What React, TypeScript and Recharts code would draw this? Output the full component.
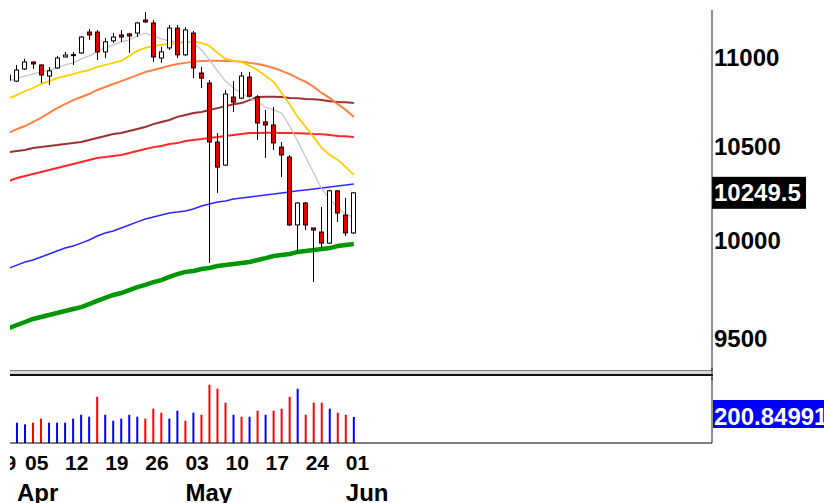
import { ComposedChart, Bar, Line, XAxis, YAxis, ReferenceLine, Cell } from 'recharts';

const DATES = [
  '03-31', '04-01', '04-05', '04-06', '04-07', '04-08', '04-09', '04-12', '04-13', '04-14', '04-15',
  '04-16', '04-19', '04-20', '04-21', '04-22', '04-23', '04-26', '04-27', '04-28', '04-29', '04-30',
  '05-03', '05-04', '05-05', '05-06', '05-07', '05-10', '05-11', '05-12', '05-13', '05-14', '05-17',
  '05-18', '05-19', '05-20', '05-21', '05-24', '05-25', '05-26', '05-27', '05-28', '06-01', '06-02',
];

const OPEN = [
  10871, 10865, 10934, 10974, 10957, 10894, 10940, 11003, 11016, 11026, 11147,
  11147, 11032, 11096, 11130, 11136, 11141, 11217, 11200, 10997, 11055, 11170,
  11015, 11141, 10911, 10854, 10525, 10399, 10775, 10769, 10888, 10775, 10636,
  10619, 10497, 10443, 10079, 10195, 10063, 10042, 9984, 10260, 10131, 10037,
];
const HIGH = [
  10917, 10957, 10992, 10976, 10960, 10946, 11009, 11032, 11032, 11124, 11165,
  11159, 11113, 11141, 11159, 11141, 11206, 11264, 11217, 11061, 11188, 11188,
  11176, 11153, 10946, 10871, 10575, 10815, 10865, 10917, 10917, 10786, 10702,
  10719, 10525, 10454, 10200, 10200, 10063, 10174, 10265, 10265, 10222, 10254,
];
const LOW = [
  10860, 10860, 10928, 10934, 10854, 10843, 10934, 11000, 10957, 11020, 11101,
  10986, 10997, 11084, 11090, 11026, 11118, 11200, 10974, 10969, 11043, 10997,
  11009, 10882, 10826, 9881, 10249, 10394, 10691, 10764, 10775, 10536, 10438,
  10481, 10334, 10073, 9932, 10052, 9783, 9958, 9979, 10095, 10021, 10031,
];
const CLOSE = [
  10899, 10928, 10974, 10963, 10900, 10923, 10997, 11014, 11012, 11118, 11130,
  11032, 11090, 11118, 11118, 11124, 11200, 11206, 11003, 11032, 11170, 11015,
  11159, 10940, 10882, 10525, 10388, 10792, 10747, 10894, 10780, 10630, 10619,
  10520, 10454, 10079, 10195, 10079, 10052, 9984, 10260, 10142, 10037, 10249.5,
];

const VOLUME = [
  160, 157, 144, 157, 188, 157, 157, 157, 188, 218, 203,
  357, 218, 172, 188, 218, 203, 188, 265, 234, 188, 249,
  172, 234, 218, 450, 419, 311, 218, 203, 203, 249, 218,
  249, 265, 357, 419, 218, 311, 311, 265, 234, 218, 200.85,
];
const VOLUME_DIR = 'uuudduuuuuudu' + 'uuuuddduudud' + 'dddudududd' + 'dudddudd' + 'u';

const MA_GRAY = [
  10865, 10882, 10894, 10905, 10917, 10928, 10940, 10957, 10969, 10992, 11009,
  11032, 11055, 11073, 11090, 11101, 11124, 11141, 11124, 11107, 11096, 11090,
  11091, 11084, 11043, 10986, 10923, 10865, 10826, 10798, 10769, 10747, 10719,
  10702, 10686, 10613, 10530, 10443, 10356, 10270, 10216, 10168, 10137, 10116,
];
const MA_YELLOW = [
  10769, 10786, 10809, 10826, 10849, 10865, 10882, 10894, 10905, 10917, 10928,
  10946, 10957, 10969, 10980, 11009, 11038, 11055, 11067, 11073, 11078, 11084,
  11085, 11090, 11084, 11067, 11026, 10992, 10980, 10975, 10952, 10928, 10894,
  10860, 10798, 10735, 10664, 10608, 10552, 10492, 10454, 10427, 10388, 10346,
];
const MA_ORANGE = [
  10575, 10597, 10613, 10636, 10658, 10686, 10713, 10735, 10758, 10775, 10792,
  10815, 10832, 10849, 10865, 10882, 10899, 10917, 10928, 10940, 10952, 10963,
  10969, 10975, 10980, 10981, 10981, 10980, 10979, 10975, 10969, 10963, 10952,
  10940, 10923, 10905, 10882, 10860, 10832, 10798, 10769, 10735, 10702, 10664,
];
const MA_MAROON = [
  10470, 10476, 10481, 10492, 10497, 10503, 10508, 10514, 10519, 10525, 10536,
  10547, 10558, 10569, 10575, 10586, 10597, 10608, 10624, 10636, 10647, 10664,
  10675, 10686, 10691, 10702, 10713, 10724, 10735, 10741, 10758, 10775, 10776,
  10776, 10775, 10769, 10768, 10764, 10763, 10758, 10752, 10747, 10746, 10741,
];
const MA_RED = [
  10313, 10329, 10340, 10351, 10361, 10372, 10383, 10394, 10405, 10416, 10427,
  10438, 10443, 10449, 10454, 10465, 10476, 10487, 10497, 10503, 10514, 10519,
  10530, 10536, 10541, 10547, 10552, 10558, 10563, 10569, 10574, 10575, 10576,
  10576, 10575, 10574, 10573, 10572, 10569, 10568, 10563, 10558, 10557, 10552,
];
const MA_BLUE = [
  9854, 9870, 9886, 9896, 9912, 9927, 9943, 9958, 9969, 9984, 10000,
  10021, 10037, 10047, 10063, 10079, 10095, 10110, 10121, 10131, 10142, 10147,
  10153, 10163, 10179, 10190, 10200, 10206, 10216, 10222, 10227, 10232, 10238,
  10243, 10249, 10254, 10260, 10265, 10270, 10275, 10281, 10286, 10291, 10297,
];
const MA_GREEN = [
  9551, 9566, 9581, 9596, 9606, 9616, 9626, 9636, 9646, 9656, 9671,
  9687, 9702, 9717, 9727, 9742, 9757, 9768, 9783, 9793, 9809, 9824,
  9835, 9840, 9850, 9855, 9865, 9870, 9876, 9881, 9886, 9896, 9906,
  9917, 9922, 9927, 9938, 9943, 9948, 9953, 9958, 9969, 9974, 9979,
];

const PRICE_TICKS = [9500, 10000, 10500, 11000];
const DAY_TICKS = [-3, 1, 6, 11, 16, 21, 26, 31, 36, 41];
const DAY_LABELS = ['29', '05', '12', '19', '26', '03', '10', '17', '24', '01'];
const MONTH_TICKS = [0, 21, 41];
const MONTH_LABELS = ['Apr', 'May', 'Jun'];
const LAST_PRICE = 10249.5;
const LAST_VOLUME = 200.85;
const LAST_VOLUME_TEXT = '200.84991';

const X_DOMAIN: [number, number] = [-0.87, 86.66];
const PRICE_DOMAIN: [number, number] = [9339, 11276];
const VOLUME_DOMAIN: [number, number] = [0, 509.5];

const FONT = '"Liberation Sans", Arial, sans-serif';
const UP_VOL = '#0000FF';
const DOWN_VOL = '#FF0000';

const rows = DATES.map((date, k) => ({
  i: k - 1,
  date,
  open: OPEN[k],
  high: HIGH[k],
  low: LOW[k],
  close: CLOSE[k],
  range: [LOW[k], HIGH[k]],
  vol: VOLUME[k],
  up: VOLUME_DIR[k] === 'u',
  gray: MA_GRAY[k],
  yellow: MA_YELLOW[k],
  orange: MA_ORANGE[k],
  maroon: MA_MAROON[k],
  red: MA_RED[k],
  blue: MA_BLUE[k],
  green: MA_GREEN[k],
}));

const xTicks = [...new Set([...DAY_TICKS, ...MONTH_TICKS])].sort((a, b) => a - b);

function Candle(props: any) {
  const { x, y, width, height, payload } = props;
  if (x == null || !payload) return null;
  const cx = Math.floor(x + width / 2) + 0.5;
  const lnH = Math.log(payload.high);
  const lnL = Math.log(payload.low);
  const py = (v: number) => y + (height * (lnH - Math.log(v))) / (lnH - lnL);
  const top = py(Math.max(payload.open, payload.close));
  const bottom = py(Math.min(payload.open, payload.close));
  const up = payload.close >= payload.open;
  return (
    <g>
      <line x1={cx} x2={cx} y1={y} y2={y + height} stroke="#000" strokeWidth={1} />
      <rect
        x={cx - 2}
        y={top}
        width={4}
        height={Math.max(bottom - top, 1)}
        fill={up ? '#FFFFFF' : '#E00000'}
        stroke="#000"
        strokeWidth={1}
      />
    </g>
  );
}

function PriceTick({ x, y, payload }: any) {
  return (
    <text x={x} y={y + 8.5} fontSize={24} fontWeight="bold" fill="#000" textAnchor="start" fontFamily={FONT}>
      {payload.value}
    </text>
  );
}

function DateTick({ x, y, payload }: any) {
  const d = DAY_TICKS.indexOf(payload.value);
  const m = MONTH_TICKS.indexOf(payload.value);
  return (
    <g>
      {d >= 0 && (
        <text x={x} y={y + 27} fontSize={21} fontWeight="bold" fill="#000" textAnchor="start" fontFamily={FONT}>
          {DAY_LABELS[d]}
        </text>
      )}
      {m >= 0 && (
        <text x={x} y={y + 58} fontSize={24} fontWeight="bold" fill="#000" textAnchor="start" fontFamily={FONT}>
          {MONTH_LABELS[m]}
        </text>
      )}
    </g>
  );
}

function PriceBadge({ viewBox }: any) {
  if (!viewBox) return null;
  const left = viewBox.x + viewBox.width;
  return (
    <g>
      <rect x={left} y={viewBox.y - 16} width={94} height={32} fill="#000" />
      <text x={left + 2} y={viewBox.y + 8.5} fontSize={24} fontWeight="bold" fill="#FFF" fontFamily={FONT}>
        {LAST_PRICE}
      </text>
    </g>
  );
}

function VolumeBadge({ viewBox }: any) {
  if (!viewBox) return null;
  const left = viewBox.x + viewBox.width;
  return (
    <g>
      <rect x={left + 1} y={viewBox.y - 17} width={120} height={28} fill="#0000FF" />
      <text x={left + 2} y={viewBox.y + 8} fontSize={24} fontWeight="bold" fill="#FFF" fontFamily={FONT}>
        {LAST_VOLUME_TEXT}
      </text>
    </g>
  );
}

const maLines: [string, string, number][] = [
  ['green', '#009600', 4.5],
  ['blue', '#2828FF', 1.5],
  ['red', '#FF2828', 2],
  ['maroon', '#9B3030', 2],
  ['orange', '#FF8040', 2],
  ['yellow', '#FFCC00', 1.8],
  ['gray', '#C4C4C4', 1.3],
];

export default function App() {
  return (
    <div style={{ position: 'absolute', left: 0, top: 0, width: 824, height: 503, background: '#fff', overflow: 'hidden' }}>
      <div style={{ position: 'absolute', left: 10, top: 0, width: 814, height: 503, overflow: 'hidden' }}>
        <div style={{ position: 'absolute', left: -10, top: 0, width: 824, height: 503 }}>
          <div style={{ position: 'absolute', left: 0, top: 0 }}>
            <ComposedChart width={824} height={371} data={rows} margin={{ top: 10, right: 0, bottom: 0, left: 10 }}>
              <XAxis dataKey="i" type="number" domain={X_DOMAIN} allowDataOverflow hide />
              <YAxis
                orientation="right"
                scale="log"
                domain={PRICE_DOMAIN}
                allowDataOverflow
                width={112}
                ticks={PRICE_TICKS}
                interval={0}
                tick={<PriceTick />}
                tickLine={false}
                tickSize={0}
                tickMargin={2}
                axisLine={{ stroke: '#202020' }}
              />
              {maLines.map(([key, color, w]) => (
                <Line
                  key={key}
                  dataKey={key}
                  type="linear"
                  stroke={color}
                  strokeWidth={w}
                  dot={false}
                  activeDot={false}
                  isAnimationActive={false}
                />
              ))}
              <Bar dataKey="range" barSize={6} shape={<Candle />} isAnimationActive={false} zIndex={450} />
              <ReferenceLine y={LAST_PRICE} stroke="none" label={<PriceBadge />} />
            </ComposedChart>
          </div>
          <svg width={824} height={12} style={{ position: 'absolute', left: 0, top: 368 }}>
            <rect x={10} y={2} width={702} height={1} fill="#808080" />
            <rect x={10} y={3} width={702} height={3} fill="#D8D8D8" />
            <rect x={10} y={6} width={703} height={2} fill="#101010" />
            <rect x={711.5} y={0} width={1} height={12} fill="#202020" />
          </svg>
          <div style={{ position: 'absolute', left: 0, top: 377 }}>
            <ComposedChart width={824} height={126} data={rows} margin={{ top: 0, right: 0, bottom: 0, left: 10 }}>
              <XAxis
                dataKey="i"
                type="number"
                domain={X_DOMAIN}
                allowDataOverflow
                ticks={xTicks}
                interval={0}
                height={60}
                tick={<DateTick />}
                tickLine={false}
                tickSize={0}
                tickMargin={0}
                axisLine={{ stroke: '#000' }}
              />
              <YAxis
                orientation="right"
                domain={VOLUME_DOMAIN}
                allowDataOverflow
                width={112}
                tick={false}
                tickLine={false}
                axisLine={{ stroke: '#202020' }}
              />
              <Bar dataKey="vol" barSize={2} isAnimationActive={false}>
                {rows.map((r) => (
                  <Cell key={r.date} fill={r.up ? UP_VOL : DOWN_VOL} />
                ))}
              </Bar>
              <ReferenceLine y={LAST_VOLUME} stroke="none" label={<VolumeBadge />} />
            </ComposedChart>
          </div>
        </div>
      </div>
    </div>
  );
}
